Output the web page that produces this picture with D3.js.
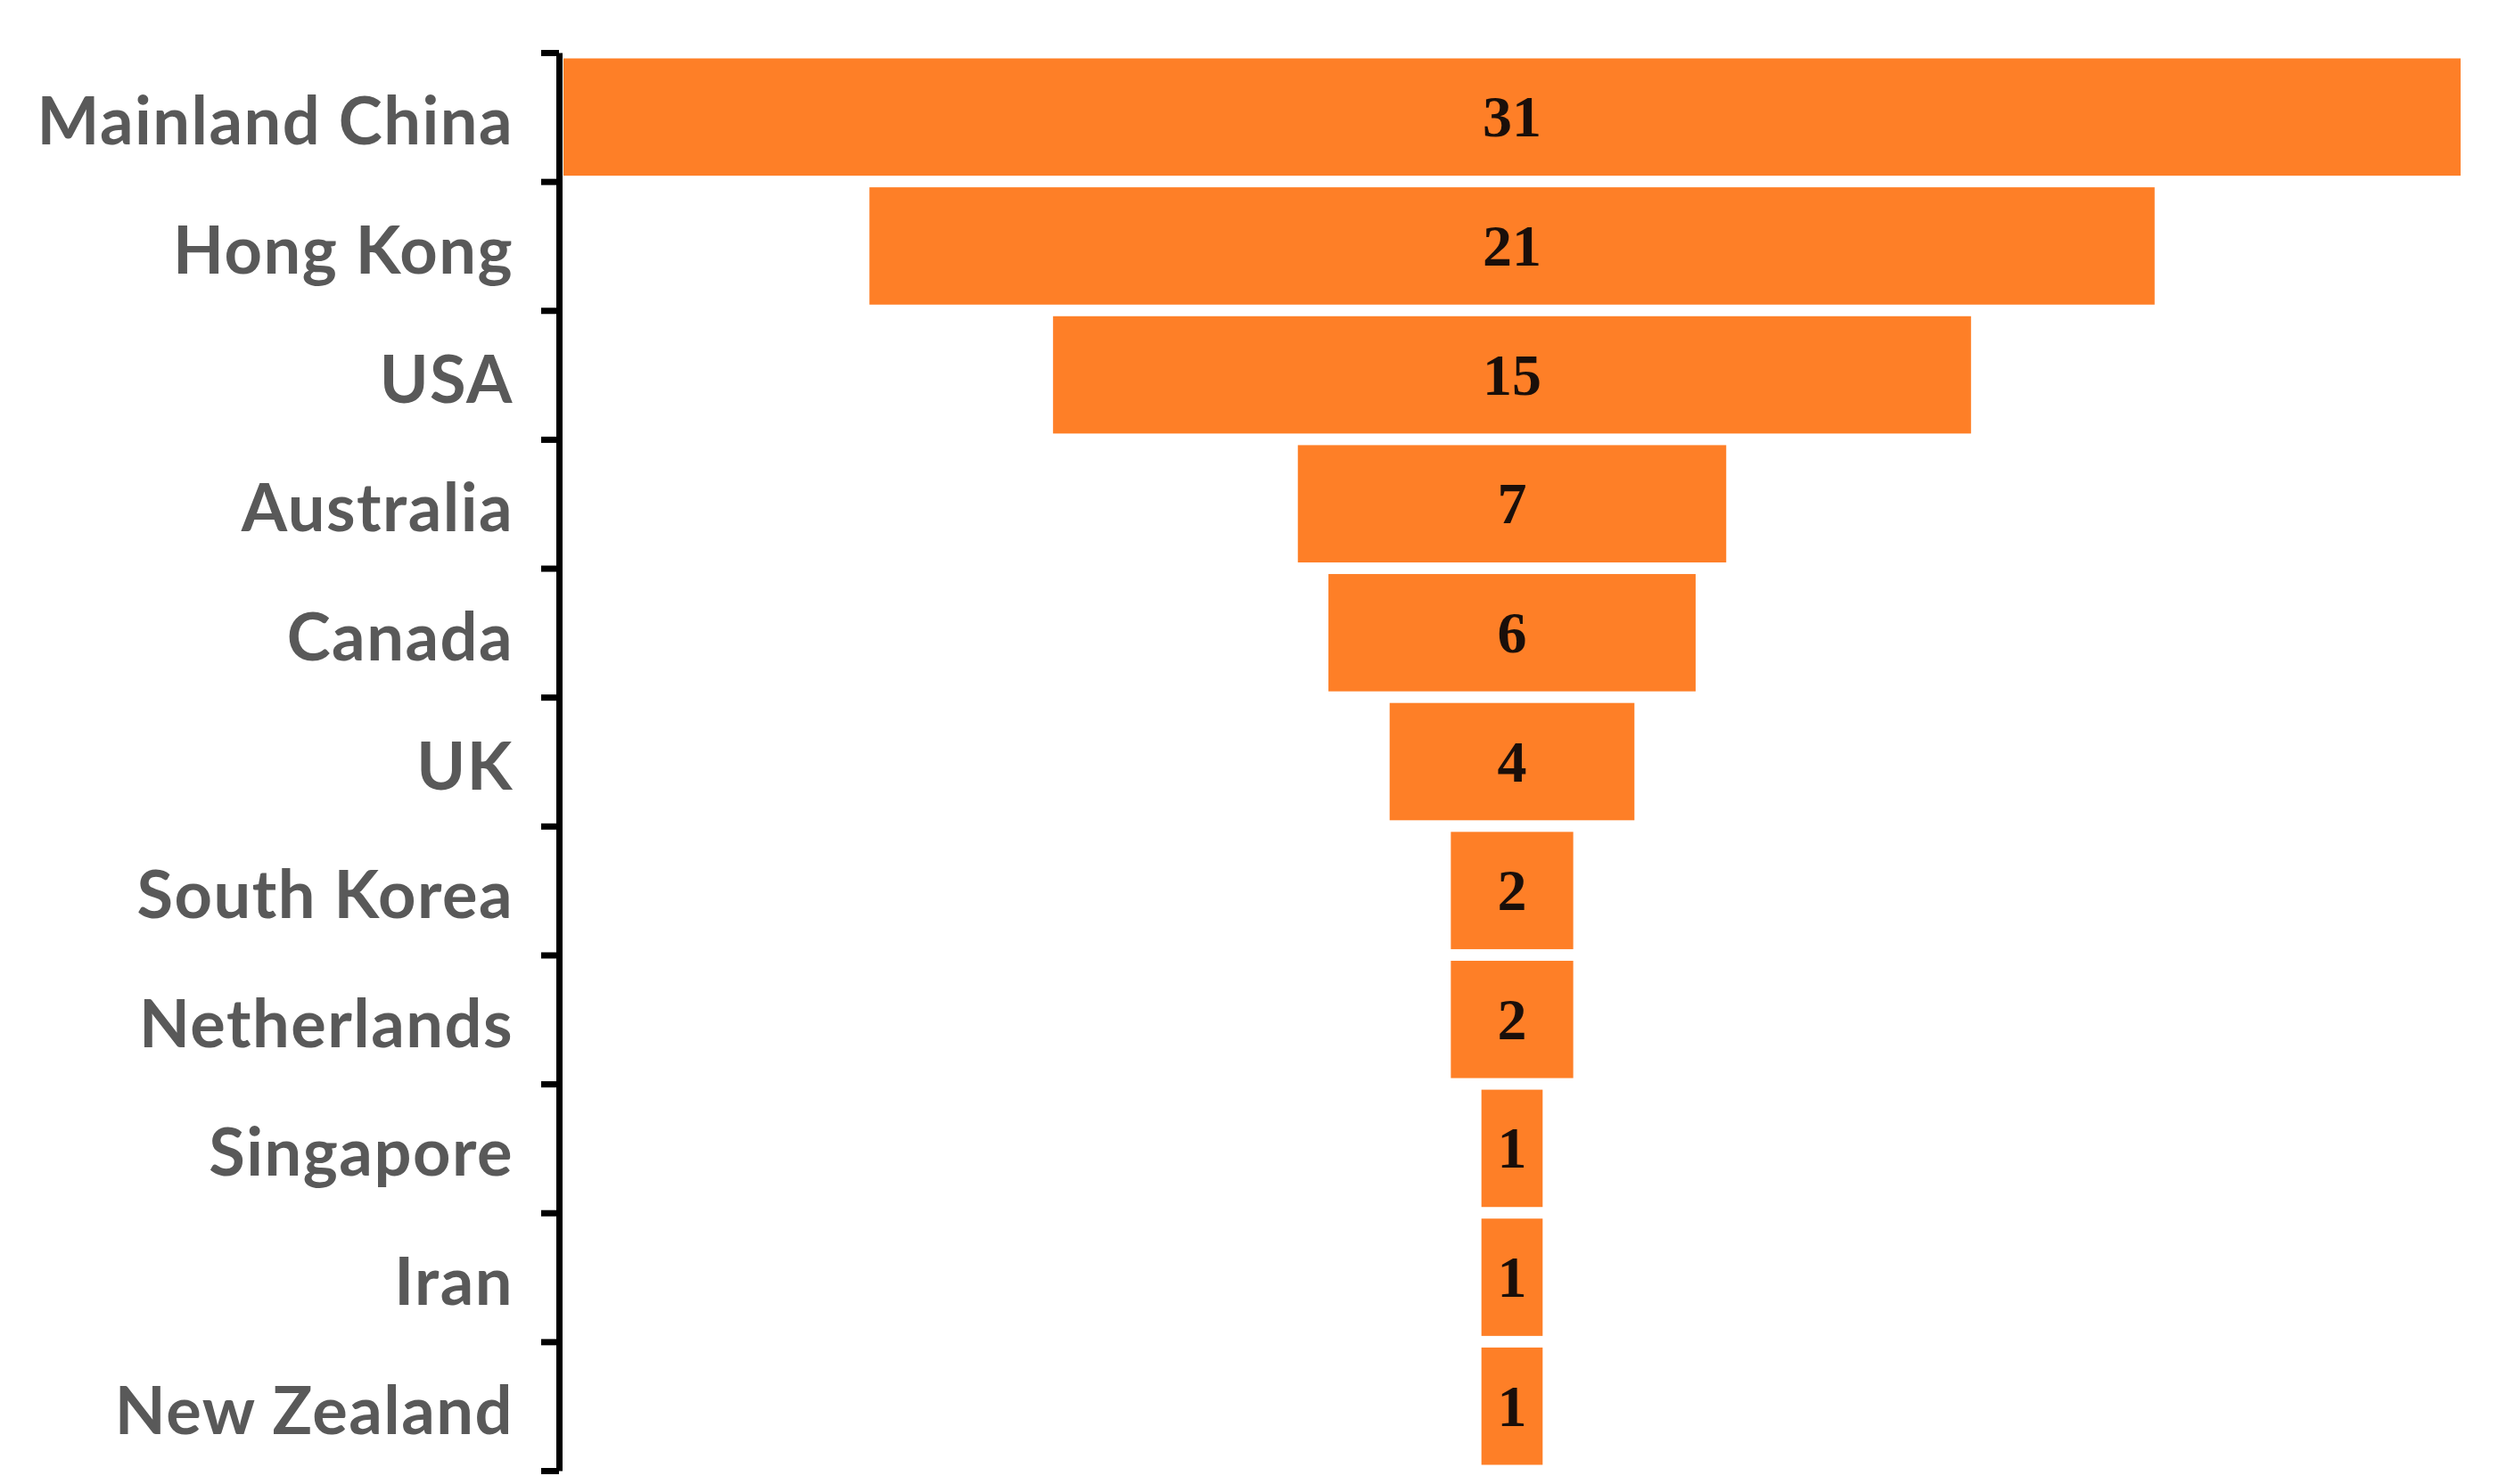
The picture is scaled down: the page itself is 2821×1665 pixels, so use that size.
<!DOCTYPE html>
<html>
<head>
<meta charset="utf-8">
<script src="https://cdn.jsdelivr.net/npm/d3@7"></script>
<style>
  html, body { margin: 0; padding: 0; background: #ffffff; }
  svg { display: block; }
</style>
</head>
<body>
<script>
const categories = ["Mainland China", "Hong Kong", "USA", "Australia", "Canada", "UK",
                    "South Korea", "Netherlands", "Singapore", "Iran", "New Zealand"];
const values = [31, 21, 15, 7, 6, 4, 2, 2, 1, 1, 1];

(function () {
const W = 2821, H = 1665;
const axisX = 627, plotTop = 59, plotBottom = 1650;
const plotLeft = 632, plotRight = 2760;
const maxV = d3.max(values);

const svg = d3.select("body").append("svg").attr("width", W).attr("height", H);

const y = d3.scaleBand().domain(categories).range([plotTop, plotBottom])
  .paddingInner(0.09).paddingOuter(0.045);
const yEdge = d3.scaleLinear().domain([0, categories.length]).range([plotTop, plotBottom]);
const x = d3.scaleLinear().domain([-maxV / 2, maxV / 2]).range([plotLeft, plotRight]);

const data = categories.map((c, i) => ({ c, v: values[i] }));

svg.append("g").selectAll("rect").data(data).join("rect")
  .attr("x", d => x(-d.v / 2))
  .attr("width", d => x(d.v / 2) - x(-d.v / 2))
  .attr("y", d => y(d.c))
  .attr("height", y.bandwidth())
  .attr("fill", "#FE7F27");

svg.append("g").selectAll("text").data(data).join("text")
  .attr("x", x(0))
  .attr("y", d => y(d.c) + y.bandwidth() / 2 + 22)
  .attr("text-anchor", "middle")
  .attr("font-family", "'Liberation Serif', serif")
  .attr("font-weight", "bold")
  .attr("font-size", 66)
  .attr("fill", "#1a0f0a")
  .text(d => d.v);

const axis = d3.axisLeft(yEdge).tickValues(d3.range(categories.length + 1))
  .tickFormat("").tickSize(20).tickSizeOuter(0);
const ag = svg.append("g").attr("transform", `translate(${axisX},0)`).call(axis);
ag.select(".domain").attr("stroke", "#000").attr("stroke-width", 7);
ag.selectAll(".tick line").attr("stroke", "#000").attr("stroke-width", 7);

svg.append("g").selectAll("text").data(categories).join("text")
  .attr("x", 576)
  .attr("y", d => y(d) + y.bandwidth() / 2 + 31)
  .attr("text-anchor", "end")
  .attr("font-family", "Lato, 'Open Sans', sans-serif")
  .attr("font-weight", "bold")
  .attr("font-size", 74)
  .attr("letter-spacing", 1.5)
  .attr("fill", "#595959")
  .text(d => d);
})();
</script>
</body>
</html>
